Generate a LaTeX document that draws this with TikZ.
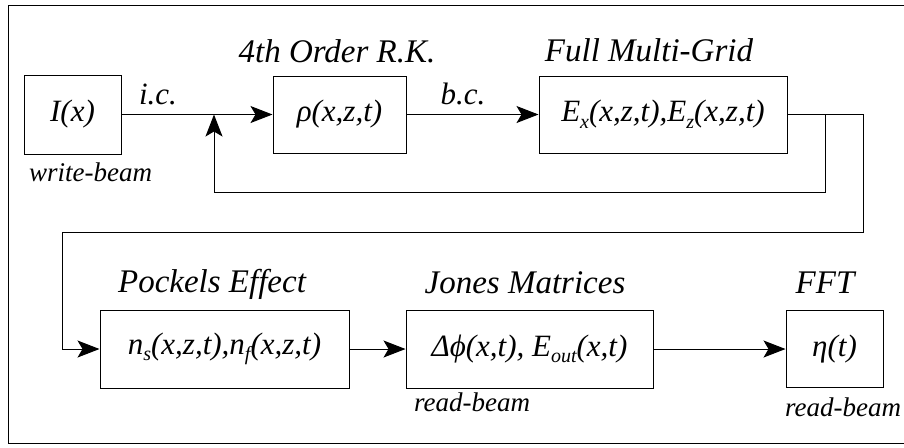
\documentclass[tikz,border=0pt]{standalone}
\usepackage{fontspec}
\setmainfont{Liberation Serif}
\newfontfamily\figfont{Liberation Serif Italic}
\usetikzlibrary{arrows.meta}
\newcommand{\lowsub}[1]{\raisebox{-0.45ex}{\fontsize{10}{12}\selectfont #1}}
\begin{document}
\begin{tikzpicture}[x=0.5pt,y=-0.5pt,
    blk/.style={draw, line width=0.5pt, inner sep=0pt, font=\figfont\fontsize{15.5}{18}\selectfont},
    ttl/.style={font=\figfont\fontsize{16.5}{19}\selectfont},
    lbl/.style={font=\figfont\fontsize{13.5}{15}\selectfont},
    flow/.style={line width=0.5pt, -{Stealth[length=11pt,width=8.5pt,inset=2.5pt]}}]
    \useasboundingbox (0,0) rectangle (904,447);

    % Outer frame
    \draw[line width=0.5pt] (904,5) -- (8,5) -- (8,443) -- (904,443);

    % Top row
    \node[blk, minimum width=48.5pt, minimum height=39.5pt] (ix) at (72.5,114.5) {I(x)};
    \node[blk, minimum width=66.5pt, minimum height=38.5pt] (rho) at (339.5,114.5) {ρ(x,z,t)};
    \node[blk, minimum width=124pt, minimum height=38.5pt] (efld) at (663,114.5) {E\lowsub{x}(x,z,t),E\lowsub{z}(x,z,t)};

    \node[lbl, anchor=base west] at (22,181) {write-beam};
    \node[ttl, anchor=base] at (337,62) {4th Order R.K.};
    \node[ttl, anchor=base] at (649,61) {Full Multi-Grid};
    \node[blk, draw=none, anchor=base] at (158,104) {i.c.};
    \node[blk, draw=none, anchor=base] at (463,104) {b.c.};

    % Bottom row
    \node[blk, minimum width=124.5pt, minimum height=39pt] (pock) at (224.5,349) {n\lowsub{s}(x,z,t),n\lowsub{f}(x,z,t)};
    \node[blk, minimum width=123.5pt, minimum height=39pt] (jones) at (529.5,349) {Δϕ(x,t), E\lowsub{out}(x,t)};
    \node[blk, minimum width=48.5pt, minimum height=38.5pt] (fft) at (834.5,349) {η(t)};

    \node[ttl, anchor=base] at (212,292) {Pockels Effect};
    \node[ttl, anchor=base] at (525,293) {Jones Matrices};
    \node[ttl, anchor=base] at (825,293) {FFT};
    \node[lbl, anchor=base west] at (407,411) {read-beam};
    \node[lbl, anchor=base west] at (778,416) {read-beam};

    % Connectors
    \coordinate (fbin) at (214,114.5);
    \coordinate (tap) at (825,114.5);
    \draw[flow] (ix) -- (rho);
    \draw[flow] (rho) -- (efld);
    \draw[flow] (tap) |- (214,192) -- (fbin);
    \draw[flow] (efld.east) -| (863,232) -| (62,349) -- (pock.west);
    \draw[flow] (pock) -- (jones);
    \draw[flow] (jones) -- (fft);
\end{tikzpicture}
\end{document}
